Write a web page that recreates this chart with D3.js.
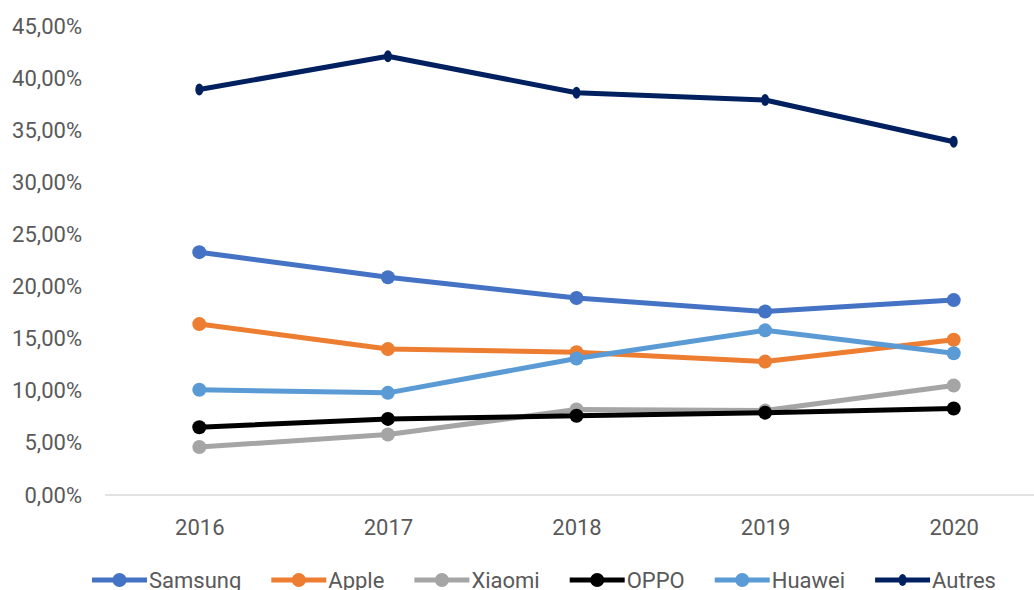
<!DOCTYPE html>
<html>
<head>
<meta charset="utf-8">
<script src="https://cdn.jsdelivr.net/npm/d3@7"></script>
<style>
  body { margin: 0; background: #fff; }
  text { font-family: Roboto, "Liberation Sans", sans-serif; fill: #595959; }
</style>
</head>
<body>
<script>
// Parts de marché smartphones, 2016-2020
const years = ['2016', '2017', '2018', '2019', '2020'];
const seriesNames = ['Samsung', 'Apple', 'Xiaomi', 'OPPO', 'Huawei', 'Autres'];
const samsung = [0.233, 0.209, 0.189, 0.176, 0.187];
const apple = [0.164, 0.140, 0.137, 0.128, 0.149];
const xiaomi = [0.046, 0.058, 0.082, 0.081, 0.105];
const oppo = [0.065, 0.073, 0.076, 0.079, 0.083];
const huawei = [0.101, 0.098, 0.131, 0.158, 0.136];
const autres = [0.389, 0.421, 0.386, 0.379, 0.339];
const yTicks = [0, 0.05, 0.10, 0.15, 0.20, 0.25, 0.30, 0.35, 0.40, 0.45];

const colors = ['#4472C4', '#ED7D31', '#A5A5A5', '#000000', '#5B9BD5', '#002060'];
const values = [samsung, apple, xiaomi, oppo, huawei, autres];

const series = seriesNames.map((name, i) => ({
  name: name,
  color: colors[i],
  values: values[i].map((v, j) => ({year: years[j], value: v}))
}));

const width = 1034, height = 590;
const margin = {top: 26, left: 105, right: -14, bottom: 95};

const svg = d3.select('body').append('svg')
  .attr('width', width)
  .attr('height', height);

const x = d3.scalePoint()
  .domain(years)
  .range([margin.left, width - margin.right])
  .padding(0.5);

const y = d3.scaleLinear()
  .domain([0, 0.45])
  .range([height - margin.bottom, margin.top]);

const fr = d3.formatLocale({decimal: ',', thousands: ' ', grouping: [3], currency: ['', ' €'], percent: '%'});
const pct = fr.format('.2%');

// y axis (labels only)
const yAxis = svg.append('g')
  .attr('transform', `translate(${margin.left},0)`)
  .call(d3.axisLeft(y).tickValues(yTicks).tickFormat(pct).tickSize(0).tickPadding(23));
yAxis.select('.domain').remove();
yAxis.selectAll('text').style('font-size', '22px').attr('fill', '#595959').attr('font-family', null);

// baseline
svg.append('line')
  .attr('x1', margin.left)
  .attr('x2', width - margin.right)
  .attr('y1', y(0))
  .attr('y2', y(0))
  .attr('stroke', '#D9D9D9')
  .attr('stroke-width', 1.5);

// x axis
const xAxis = svg.append('g')
  .attr('transform', `translate(0,${y(0)})`)
  .call(d3.axisBottom(x).tickSize(0).tickPadding(24));
xAxis.select('.domain').remove();
xAxis.selectAll('text').style('font-size', '22px').attr('fill', '#595959').attr('font-family', null);

const line = d3.line()
  .x((d) => x(d.year))
  .y((d) => y(d.value));

function addMarker(sel, s, cx, cy) {
  if (s.name === 'Autres') {
    sel.append('ellipse')
      .attr('cx', cx).attr('cy', cy)
      .attr('rx', 4).attr('ry', 6)
      .attr('fill', s.color);
  } else {
    sel.append('circle')
      .attr('cx', cx).attr('cy', cy)
      .attr('r', 7)
      .attr('fill', s.color);
  }
}

const g = svg.selectAll('.series').data(series).enter().append('g')
  .attr('class', 'series');

g.append('path')
  .attr('d', (d) => line(d.values))
  .attr('fill', 'none')
  .attr('stroke', (d) => d.color)
  .attr('stroke-width', 5)
  .attr('stroke-linejoin', 'round');

g.each(function(s) {
  const sel = d3.select(this);
  s.values.forEach((d) => addMarker(sel, s, x(d.year), y(d.value)));
});

// legend
const legend = svg.append('g').attr('class', 'legend');
let lx = 92;
const ly = 580;
series.forEach((s) => {
  const item = legend.append('g');
  item.append('line')
    .attr('x1', lx).attr('x2', lx + 55)
    .attr('y1', ly).attr('y2', ly)
    .attr('stroke', s.color)
    .attr('stroke-width', 5);
  addMarker(item, s, lx + 27.5, ly);
  const t = item.append('text')
    .attr('x', lx + 57)
    .attr('y', ly + 8)
    .style('font-size', '22px')
    .text(s.name);
  lx += 57 + t.node().getComputedTextLength() + 30;
});
</script>
</body>
</html>
